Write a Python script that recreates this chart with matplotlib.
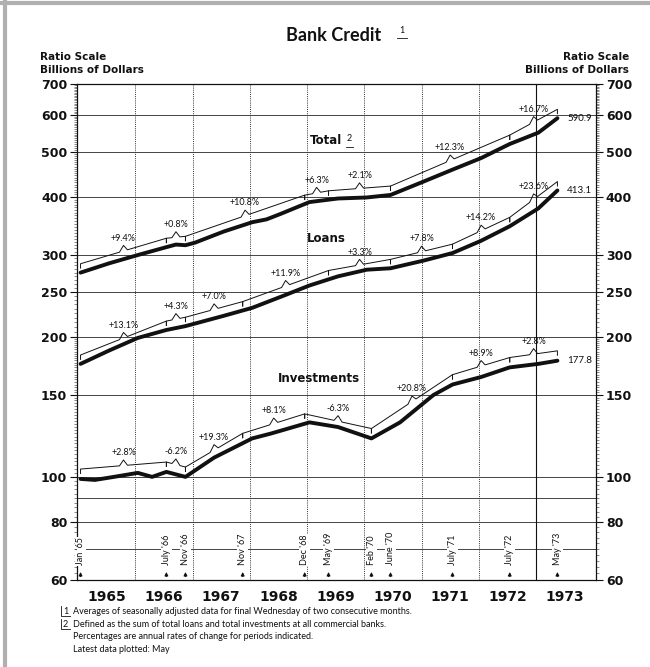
import numpy as np
import matplotlib
matplotlib.use("Agg")
import matplotlib.pyplot as plt
from matplotlib.lines import Line2D
from matplotlib.ticker import NullFormatter


def ym(y, m):
    """mid-month as decimal year"""
    return y + (m - 0.5) / 12


# --- data (billions of dollars, ratio scale) ---
total_t = [ym(1965, 1), ym(1965, 7), ym(1966, 1), ym(1966, 7), ym(1966, 9), ym(1966, 11),
           ym(1967, 1), ym(1967, 7), ym(1968, 1), ym(1968, 4), ym(1968, 7), ym(1969, 1),
           ym(1969, 7), ym(1970, 1), ym(1970, 6), ym(1971, 1), ym(1971, 7), ym(1972, 1),
           ym(1972, 7), ym(1973, 1), ym(1973, 5)]
total_v = [275, 288, 300, 312, 316, 315, 319, 337, 353, 358, 368, 390, 397, 399, 404,
           432, 458, 485, 520, 550, 590.9]

loans_t = [ym(1965, 1), ym(1965, 7), ym(1966, 1), ym(1966, 7), ym(1966, 11), ym(1967, 7),
           ym(1968, 1), ym(1968, 7), ym(1969, 1), ym(1969, 7), ym(1970, 1), ym(1970, 6),
           ym(1971, 1), ym(1971, 7), ym(1972, 1), ym(1972, 7), ym(1973, 1), ym(1973, 5)]
loans_v = [175, 187, 199, 207, 211, 222, 231, 244, 258, 270, 279, 281,
           292, 303, 322, 346, 378, 413.1]

inv_t = [ym(1965, 1), ym(1965, 4), ym(1965, 8), ym(1966, 1), ym(1966, 4), ym(1966, 7),
         ym(1966, 11), ym(1967, 5), ym(1968, 1), ym(1968, 5), ym(1969, 1), ym(1969, 7),
         ym(1970, 2), ym(1970, 8), ym(1971, 3), ym(1971, 7), ym(1972, 1), ym(1972, 7),
         ym(1973, 1), ym(1973, 5)]
inv_v = [99, 98.5, 100, 102, 100, 102.5, 100, 110, 121, 124, 131, 128,
         121, 131, 150, 158, 164, 172, 175, 177.8]

# period break points (year, month) and annual rates of change
total_breaks = [(1965, 1), (1966, 7), (1966, 11), (1968, 12), (1969, 5), (1970, 6), (1972, 7), (1973, 5)]
total_pct = ["+9.4%", "+0.8%", "+10.8%", "+6.3%", "+2.1%", "+12.3%", "+16.7%"]
loans_breaks = [(1965, 1), (1966, 7), (1966, 11), (1967, 11), (1969, 5), (1970, 6), (1971, 7), (1972, 7), (1973, 5)]
loans_pct = ["+13.1%", "+4.3%", "+7.0%", "+11.9%", "+3.3%", "+7.8%", "+14.2%", "+23.6%"]
inv_breaks = [(1965, 1), (1966, 7), (1966, 11), (1967, 11), (1968, 12), (1970, 2), (1971, 7), (1972, 7), (1973, 5)]
inv_pct = ["+2.8%", "-6.2%", "+19.3%", "+8.1%", "-6.3%", "+20.8%", "+8.9%", "+2.8%"]

marker_labels = ["Jan '65", "July '66", "Nov '66", "Nov '67", "Dec '68", "May '69",
                 "Feb '70", "June '70", "July '71", "July '72", "May '73"]
marker_dates = [(1965, 1), (1966, 7), (1966, 11), (1967, 11), (1968, 12), (1969, 5),
                (1970, 2), (1970, 6), (1971, 7), (1972, 7), (1973, 5)]

years = list(range(1965, 1974))
yticks = [60, 80, 100, 150, 200, 250, 300, 400, 500, 600, 700]
ygrid = [70, 80, 90, 100, 150, 200, 250, 300, 400, 500, 600]

BOLD = ["Liberation Sans Narrow", "DejaVu Sans"]
LIGHT = ["Lato", "DejaVu Sans"]
INK = "#111111"

fig = plt.figure(figsize=(6.5, 6.67), dpi=100)
ax = fig.add_axes([0.1185, 0.1304, 0.7985, 0.7437])
ax.set_yscale("log")
ax.set_ylim(60, 700)
ax.set_xlim(1964.98, 1974.05)

# grid
for g in ygrid:
    ax.axhline(g, color="#444444", lw=0.7, zorder=1)
for y in years[1:]:
    if y == 1973:
        ax.axvline(y, color=INK, lw=0.8, zorder=1)
    else:
        ax.axvline(y, color="#333333", lw=0.7, ls=(0, (1, 1.2)), zorder=1)

for sp in ax.spines.values():
    sp.set_linewidth(0.9)
    sp.set_color(INK)

# ticks
ax.set_yticks(yticks)
ax.set_yticklabels([str(v) for v in yticks])
minor = [v for v in range(62, 200, 2)] + [v for v in range(205, 700, 5)]
ax.set_yticks([v for v in minor if v not in yticks], minor=True)
ax.yaxis.set_minor_formatter(NullFormatter())
ax.tick_params(axis="y", which="major", length=5, width=0.8, direction="out",
               left=True, right=True, labelleft=True, labelright=True, pad=2,
               labelsize=9, colors=INK)
ax.tick_params(axis="y", which="minor", length=2, width=0.4, direction="out",
               left=True, right=True, labelleft=False, labelright=False, colors="#333333")
for lab in ax.get_yticklabels():
    lab.set_family(BOLD)
    lab.set_fontweight("bold")
ax.set_xticks([y + 0.5 for y in years])
ax.set_xticklabels([str(y) for y in years])
ax.tick_params(axis="x", length=0, pad=7, labelsize=10, colors=INK)
for lab in ax.get_xticklabels():
    lab.set_family(BOLD)
    lab.set_fontweight("bold")


def draw_series(t, v, breaks, pcts, k):
    t = np.asarray(t, float)
    lv = np.log10(v)
    ax.plot(t, v, color=INK, lw=2.8, solid_capstyle="round", zorder=4)
    b = [ym(*d) for d in breaks]
    for i, p in enumerate(pcts):
        t0, t1 = b[i], b[i + 1]
        y0 = 10 ** np.interp(t0, t, lv) * k
        y1 = 10 ** np.interp(t1, t, lv) * k
        tm = 0.5 * (t0 + t1)
        ymid = 10 ** (0.5 * (np.log10(y0) + np.log10(y1)))
        d = min(0.07, 0.3 * (t1 - t0))
        slope = (np.log10(y1) - np.log10(y0)) / (t1 - t0)
        ya = 10 ** (np.log10(ymid) - slope * d)
        yb = 10 ** (np.log10(ymid) + slope * d)
        xs = [t0, t0, tm - d, tm, tm + d, t1, t1]
        ys = [y0 / 1.022, y0, ya, ymid * 1.028, yb, y1, y1 / 1.022]
        ax.plot(xs, ys, color=INK, lw=0.7, zorder=3)
        ax.annotate(p, (tm, ymid * 1.028), xytext=(0, 2), textcoords="offset points",
                    ha="center", va="bottom", fontsize=6.5, family=LIGHT, color=INK)
    ax.annotate(f"{v[-1]:.1f}", (t[-1], v[-1]), xytext=(7, 0), textcoords="offset points",
                ha="left", va="center", fontsize=7, family=LIGHT, color=INK)


draw_series(total_t, total_v, total_breaks, total_pct, 1.045)
draw_series(loans_t, loans_v, loans_breaks, loans_pct, 1.045)
draw_series(inv_t, inv_v, inv_breaks, inv_pct, 1.05)

# series names
ax.text(1969.33, 530, "Total", ha="center", va="center", fontsize=8.5, fontweight="bold",
        family=BOLD, color=INK)
ax.text(1969.74, 535, "2", ha="center", va="center", fontsize=6.5, family=LIGHT, color=INK)
ax.plot([1969.68, 1969.80], [512, 512], color=INK, lw=0.6)
ax.text(1969.33, 326, "Loans", ha="center", va="center", fontsize=8.5, fontweight="bold",
        family=BOLD, color=INK)
ax.text(1969.2, 163, "Investments", ha="center", va="center", fontsize=8.5, fontweight="bold",
        family=BOLD, color=INK)

# period markers along the bottom
for lab, d in zip(marker_labels, marker_dates):
    x = ym(*d)
    ax.annotate("", xy=(x, 63.3), xytext=(x, 60.2),
                arrowprops=dict(arrowstyle="-|>", lw=0.8, color=INK, mutation_scale=5),
                zorder=5)
    ax.text(x, 64.5, lab, rotation=90, ha="center", va="bottom", fontsize=6.5,
            family=LIGHT, color=INK, zorder=5,
            bbox=dict(facecolor="white", edgecolor="none", pad=0.6))

# titles and axis captions
fig.text(0.513, 0.947, "Bank Credit", ha="center", va="center", fontsize=13,
         fontweight="bold", family=["Lato", "DejaVu Sans"], color=INK)
fig.text(0.618, 0.955, "1", ha="center", va="center", fontsize=6.5, family=LIGHT, color=INK)
fig.add_artist(Line2D([0.611, 0.626], [0.943, 0.943], transform=fig.transFigure, color=INK, lw=0.6))
fig.text(0.062, 0.914, "Ratio Scale", ha="left", va="center", fontsize=7.5,
         fontweight="bold", family=BOLD, color=INK)
fig.text(0.062, 0.895, "Billions of Dollars", ha="left", va="center", fontsize=7.5,
         fontweight="bold", family=BOLD, color=INK)
fig.text(0.968, 0.914, "Ratio Scale", ha="right", va="center", fontsize=7.5,
         fontweight="bold", family=BOLD, color=INK)
fig.text(0.968, 0.895, "Billions of Dollars", ha="right", va="center", fontsize=7.5,
         fontweight="bold", family=BOLD, color=INK)

notes = [("1", "Averages of seasonally adjusted data for final Wednesday of two consecutive months."),
         ("2", "Defined as the sum of total loans and total investments at all commercial banks."),
         ("", "Percentages are annual rates of change for periods indicated."),
         ("", "Latest data plotted: May")]
for i, (n, s) in enumerate(notes):
    yy = 0.083 - i * 0.019
    if n:
        fig.text(0.097, yy, n, ha="left", va="center", fontsize=6.5, family=LIGHT, color=INK)
        fig.add_artist(Line2D([0.094, 0.094, 0.108], [yy + 0.008, yy - 0.007, yy - 0.007],
                              transform=fig.transFigure, color=INK, lw=0.6))
    fig.text(0.112, yy, s, ha="left", va="center", fontsize=6.5, family=LIGHT, color=INK)

# scanned page border
fig.add_artist(Line2D([0.008, 0.008], [0, 1], transform=fig.transFigure, color="#b0b0b0", lw=3))
fig.add_artist(Line2D([0, 1], [0.995, 0.995], transform=fig.transFigure, color="#b0b0b0", lw=3))

fig.savefig("out.png", dpi=100)
